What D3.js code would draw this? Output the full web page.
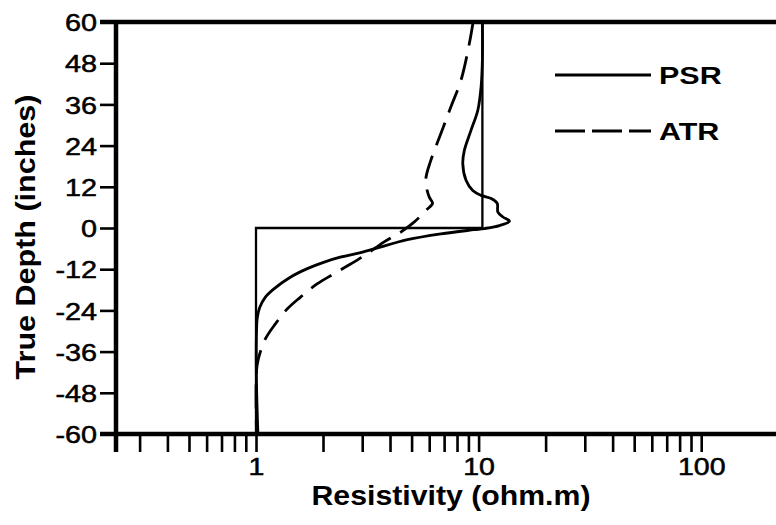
<!DOCTYPE html>
<html><head><meta charset="utf-8">
<script src="https://cdn.jsdelivr.net/npm/d3@7"></script>
<style>
html,body{margin:0;padding:0;background:#fff;}
svg{display:block;}
text{font-family:"Liberation Sans",Arial,sans-serif;fill:#000;}
</style></head>
<body>
<svg id="chart" width="776" height="525"></svg>
<script>
// ---- data ----
const stepDepth = [60, 0, 0, -60];
const stepRes   = [10.4, 10.4, 1, 1];

const psrDepth = [60, 48.9, 41.1, 34.3, 28.5, 22.6, 18.8, 13.9, 10.9, 9.5, 8.6, 7.2, 4.6, 3.2, 2.0, 0.7, -0.15, -0.5, -1.7, -3.4, -6.1, -7.4, -8.5, -10.0, -11.9, -14.4, -17.8, -20.2, -23.1, -26.0, -30.8, -45, -60];
const psrRes   = [10.4, 10.4, 10.26, 9.92, 9.25, 8.63, 8.49, 8.78, 9.41, 10.26, 11.39, 12.12, 12.21, 12.86, 13.77, 12.41, 10.62, 9.54, 6.77, 4.79, 3.39, 2.85, 2.39, 2.01, 1.69, 1.42, 1.20, 1.10, 1.04, 1.014, 1.005, 1.005, 1.02];

const atrDepth = [60, 53.8, 43.1, 35.3, 27.5, 19.7, 13.9, 9.0, 7.2, 5.1, 1.7, -1.2, -4.1, -7.5, -10.5, -13.4, -16.3, -20.2, -23.6, -28.0, -32.4, -38.2, -41.6, -60];
const atrRes   = [9.45, 9.09, 8.34, 7.51, 6.77, 6.10, 5.79, 6.00, 6.21, 5.79, 5.13, 4.47, 3.75, 3.16, 2.66, 2.23, 1.88, 1.58, 1.38, 1.22, 1.10, 1.024, 1.005, 1.005];

const yTicks = [-60, -48, -36, -24, -12, 0, 12, 24, 36, 48, 60];
const xTicks = [0.3,0.4,0.5,0.6,0.7,0.8,0.9,1,2,3,4,5,6,7,8,9,10,20,30,40,50,60,70,80,90,100];
const xTickLabels = [1, 10, 100];
const legendNames = ["PSR", "ATR"];
const xTitle = "Resistivity (ohm.m)";
const yTitle = "True Depth (inches)";

// ---- layout ----
(function () {
const svg = d3.select("#chart");
const pLeft = 116, pTop = 22, pBottom = 434;
const x = d3.scaleLog().domain([0.235, 220]).range([pLeft, pLeft + 222.6 * Math.log10(220 / 0.235)]);
const y = d3.scaleLinear().domain([-60, 60]).range([pBottom, pTop]);

function widen(sel, factor) {
  sel.each(function () {
    const len = this.getComputedTextLength();
    d3.select(this).attr("textLength", len * factor).attr("lengthAdjust", "spacingAndGlyphs");
  });
}

// frame: top line
svg.append("line")
  .attr("x1", pLeft - 16).attr("x2", 776)
  .attr("y1", y(60)).attr("y2", y(60))
  .attr("stroke", "#000").attr("stroke-width", 4.5);

// left axis
const gy = svg.append("g").attr("transform", `translate(${pLeft},0)`)
  .call(d3.axisLeft(y).tickValues(yTicks).tickSize(16).tickSizeOuter(0).tickPadding(3).tickFormat(d => String(d)));
gy.select(".domain").attr("stroke-width", 4.5).attr("d", `M0,${pTop}V${pBottom + 18}`);
gy.selectAll(".tick line").attr("stroke-width", 2.6);
gy.selectAll(".tick text").attr("font-size", 24).attr("font-family", "Liberation Sans, Arial, sans-serif")
  .attr("stroke", "#000").attr("stroke-width", 0.5).attr("dy", "0.36em").attr("x", -19);
widen(gy.selectAll(".tick text"), 1.2);

// bottom axis
const gx = svg.append("g").attr("transform", `translate(0,${pBottom})`)
  .call(d3.axisBottom(x).tickValues(xTicks).tickSize(18).tickSizeOuter(0)
    .tickFormat(d => xTickLabels.includes(d) ? String(d) : ""));
gx.select(".domain").attr("stroke-width", 4.5).attr("d", `M${pLeft - 16},0H776`);
gx.selectAll(".tick line").attr("stroke-width", 2.6);
gx.selectAll(".tick text").attr("font-size", 23).attr("font-family", "Liberation Sans, Arial, sans-serif")
  .attr("stroke", "#000").attr("stroke-width", 0.5).attr("y", 41).attr("dy", null);
widen(gx.selectAll(".tick text").filter(d => xTickLabels.includes(d)), 1.24);

// plot lines
const line = d3.line().x(d => x(d[0])).y(d => y(d[1]));
const smooth = d3.line().x(d => x(d[0])).y(d => y(d[1])).curve(d3.curveCatmullRom.alpha(0.5));

svg.append("path").datum(stepRes.map((r, i) => [r, stepDepth[i]]))
  .attr("d", line).attr("fill", "none").attr("stroke", "#000").attr("stroke-width", 2.3);

svg.append("path").datum(psrRes.map((r, i) => [r, psrDepth[i]]))
  .attr("d", smooth).attr("fill", "none").attr("stroke", "#000").attr("stroke-width", 2.8)
  .attr("stroke-linejoin", "round");

svg.append("path").datum(atrRes.map((r, i) => [r, atrDepth[i]]))
  .attr("d", smooth).attr("fill", "none").attr("stroke", "#000").attr("stroke-width", 2.8)
  .attr("stroke-dasharray", "24,11");

// legend
const legY = [75, 131];
const legDash = [null, "30,7"];
legendNames.forEach((name, i) => {
  svg.append("line").attr("x1", 555).attr("x2", 651).attr("y1", legY[i]).attr("y2", legY[i])
    .attr("stroke", "#000").attr("stroke-width", 2.8).attr("stroke-dasharray", legDash[i]);
  const t = svg.append("text").attr("x", 659).attr("y", legY[i] + 8.5)
    .attr("font-size", 24).attr("font-weight", "bold").text(name);
  widen(t, 1.27);
});

// axis titles
const xt = svg.append("text").attr("x", 451).attr("y", 505).attr("text-anchor", "middle")
  .attr("font-size", 27).attr("font-weight", "bold").text(xTitle);
widen(xt, 1.12);
const yt = svg.append("text").attr("transform", "translate(35,237) rotate(-90)").attr("text-anchor", "middle")
  .attr("font-size", 28).attr("font-weight", "bold").text(yTitle);
widen(yt, 1.09);
})();
</script>
</body></html>
